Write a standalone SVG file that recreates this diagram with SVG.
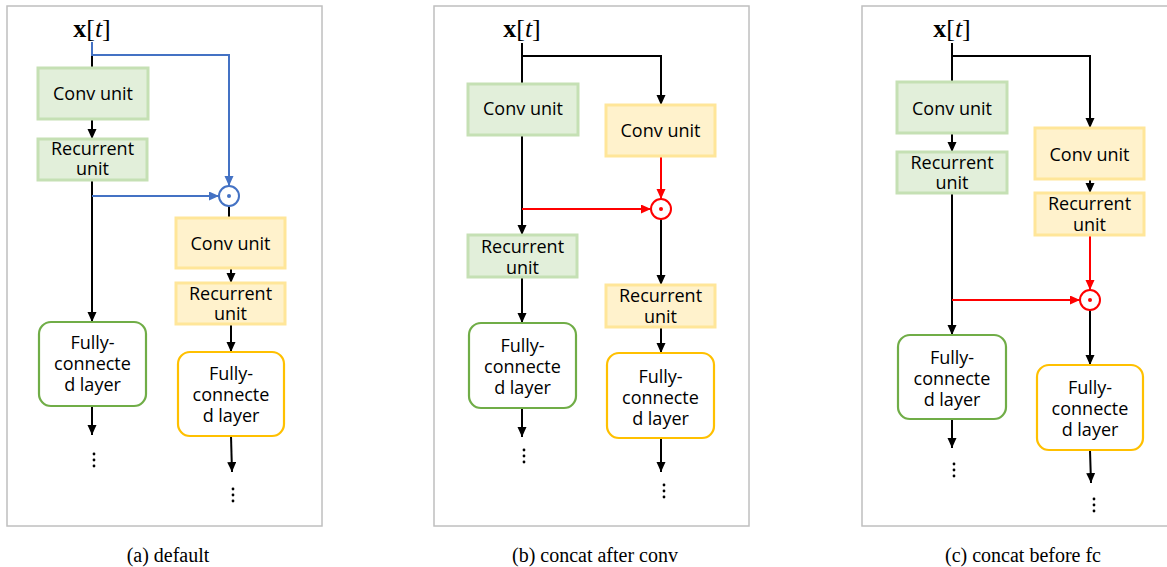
<svg xmlns="http://www.w3.org/2000/svg" width="1167" height="567" viewBox="0 0 1167 567">
<style>
.panel{fill:#fff;stroke:#bfbfbf;stroke-width:1.5}
.gbox{fill:#e2efda;stroke:#c5e0b4;stroke-width:3}
.ybox{fill:#fff2cc;stroke:#ffe699;stroke-width:3}
.gfc{fill:#fff;stroke:#70ad47;stroke-width:2.2}
.yfc{fill:#fff;stroke:#ffc000;stroke-width:2.2}
.t{font-family:"Open Sans","Noto Sans","DejaVu Sans",sans-serif;font-size:18px;fill:#000;text-anchor:middle}
.x{font-family:"Liberation Serif","DejaVu Serif",serif;font-size:26px;fill:#000;text-anchor:middle}
.cap{font-family:"Liberation Serif","DejaVu Serif",serif;font-size:20px;fill:#000;text-anchor:middle}
.k{fill:none;stroke:#000;stroke-width:2}
.b{fill:none;stroke:#4472c4;stroke-width:2}
.r{fill:none;stroke:#ff0000;stroke-width:2}
.ka{marker-end:url(#ak)}
.ba{marker-end:url(#ab)}
.ra{marker-end:url(#ar)}
.dot{fill:#000}
</style>
<defs>
<marker id="ak" markerUnits="userSpaceOnUse" markerWidth="10" markerHeight="10" refX="10" refY="4.5" orient="auto"><path d="M0,0 L10,4.5 L0,9 z" fill="#000"/></marker>
<marker id="ab" markerUnits="userSpaceOnUse" markerWidth="10" markerHeight="10" refX="10" refY="4.5" orient="auto"><path d="M0,0 L10,4.5 L0,9 z" fill="#4472c4"/></marker>
<marker id="ar" markerUnits="userSpaceOnUse" markerWidth="10" markerHeight="10" refX="10" refY="4.5" orient="auto"><path d="M0,0 L10,4.5 L0,9 z" fill="#ff0000"/></marker>
</defs>

<g id="panels">
<rect class="panel" x="7" y="6" width="315" height="520"/>
<rect class="panel" x="434" y="6" width="315" height="520"/>
<rect class="panel" x="862" y="6" width="320" height="520"/>
</g>

<!-- Panel a -->
<g id="connectors-a">
<line class="k" x1="92" y1="42" x2="92" y2="68"/>
<path class="b ba" d="M92,42 V55 H229 V186"/>
<line class="k ka" x1="92" y1="119" x2="92" y2="139"/>
<line class="k ka" x1="92" y1="180" x2="92" y2="322"/>
<path class="b ba" d="M92,196 H219"/>
<line class="k" x1="229" y1="206" x2="229" y2="218"/>
<line class="k ka" x1="231" y1="268" x2="231" y2="283"/>
<line class="k ka" x1="231" y1="324" x2="231" y2="352"/>
<line class="k ka" x1="92" y1="406" x2="92" y2="435"/>
<line class="k ka" x1="231" y1="436" x2="232" y2="472"/>
</g>
<g id="a-input"><text class="x" x="92" y="37"><tspan font-weight="bold">x</tspan>[<tspan font-style="italic">t</tspan>]</text></g>
<g id="a-conv1"><rect class="gbox" x="38" y="68" width="110" height="51"/><text class="t" x="93" y="100">Conv unit</text></g>
<g id="a-rec1"><rect class="gbox" x="38" y="139" width="109" height="41"/><text class="t" x="92.5" y="155">Recurrent<tspan x="92.5" dy="20">unit</tspan></text></g>
<g id="a-odot"><circle cx="229" cy="196" r="10" fill="#fff" stroke="#4472c4" stroke-width="2"/><circle cx="229" cy="196" r="2" fill="#4472c4"/></g>
<g id="a-conv2"><rect class="ybox" x="176" y="218" width="109" height="50"/><text class="t" x="230.5" y="250">Conv unit</text></g>
<g id="a-rec2"><rect class="ybox" x="176" y="283" width="109" height="41"/><text class="t" x="230.5" y="300">Recurrent<tspan x="230.5" dy="20">unit</tspan></text></g>
<g id="a-fc1"><rect class="gfc" x="39" y="322" width="107" height="84" rx="12"/><text class="t" x="92.5" y="349">Fully-<tspan x="92.5" dy="21">connecte</tspan><tspan x="92.5" dy="21">d layer</tspan></text></g>
<g id="a-fc2"><rect class="yfc" x="178" y="352" width="106" height="84" rx="12"/><text class="t" x="231" y="380">Fully-<tspan x="231" dy="21">connecte</tspan><tspan x="231" dy="21">d layer</tspan></text></g>
<g id="a-dots1"><circle class="dot" cx="94" cy="454" r="1.4"/><circle class="dot" cx="94" cy="460" r="1.4"/><circle class="dot" cx="94" cy="466" r="1.4"/></g>
<g id="a-dots2"><circle class="dot" cx="233" cy="489" r="1.4"/><circle class="dot" cx="233" cy="495" r="1.4"/><circle class="dot" cx="233" cy="501" r="1.4"/></g>
<text class="cap" x="168" y="562">(a)  default</text>

<!-- Panel b -->
<g id="connectors-b">
<line class="k" x1="522" y1="43" x2="522" y2="84"/>
<path class="k ka" d="M522,56 H661 V105"/>
<path class="r ra" d="M661,156 V199"/>
<line class="k ka" x1="522" y1="135" x2="522" y2="235"/>
<path class="r ra" d="M522,209 H651"/>
<line class="k ka" x1="661" y1="219" x2="661" y2="285"/>
<line class="k ka" x1="522" y1="277" x2="522" y2="323"/>
<line class="k ka" x1="522" y1="408" x2="522" y2="437"/>
<line class="k ka" x1="661" y1="327" x2="661" y2="353"/>
<line class="k ka" x1="661" y1="438" x2="661" y2="472"/>
</g>
<g id="b-input"><text class="x" x="522" y="37"><tspan font-weight="bold">x</tspan>[<tspan font-style="italic">t</tspan>]</text></g>
<g id="b-conv1"><rect class="gbox" x="468" y="84" width="110" height="51"/><text class="t" x="523" y="115">Conv unit</text></g>
<g id="b-conv2"><rect class="ybox" x="606" y="105" width="109" height="51"/><text class="t" x="660.5" y="137">Conv unit</text></g>
<g id="b-odot"><circle cx="661" cy="209" r="10" fill="#fff" stroke="#ff0000" stroke-width="2"/><circle cx="661" cy="209" r="2" fill="#ff0000"/></g>
<g id="b-rec1"><rect class="gbox" x="468" y="235" width="109" height="42"/><text class="t" x="522.5" y="253">Recurrent<tspan x="522.5" dy="21">unit</tspan></text></g>
<g id="b-rec2"><rect class="ybox" x="606" y="285" width="109" height="42"/><text class="t" x="660.5" y="302">Recurrent<tspan x="660.5" dy="21">unit</tspan></text></g>
<g id="b-fc1"><rect class="gfc" x="469" y="323" width="107" height="85" rx="12"/><text class="t" x="522.5" y="352">Fully-<tspan x="522.5" dy="21">connecte</tspan><tspan x="522.5" dy="21">d layer</tspan></text></g>
<g id="b-fc2"><rect class="yfc" x="607" y="353" width="107" height="85" rx="12"/><text class="t" x="660.5" y="383">Fully-<tspan x="660.5" dy="21">connecte</tspan><tspan x="660.5" dy="21">d layer</tspan></text></g>
<g id="b-dots1"><circle class="dot" cx="524" cy="450" r="1.4"/><circle class="dot" cx="524" cy="456" r="1.4"/><circle class="dot" cx="524" cy="462" r="1.4"/></g>
<g id="b-dots2"><circle class="dot" cx="664" cy="485" r="1.4"/><circle class="dot" cx="664" cy="491" r="1.4"/><circle class="dot" cx="664" cy="497" r="1.4"/></g>
<text class="cap" x="595" y="562">(b)  concat  after  conv</text>

<!-- Panel c -->
<g id="connectors-c">
<line class="k" x1="952" y1="43" x2="952" y2="82"/>
<path class="k ka" d="M952,56 H1090 V128"/>
<line class="k ka" x1="952" y1="133" x2="952" y2="152"/>
<line class="k ka" x1="1090" y1="179" x2="1090" y2="193"/>
<path class="r ra" d="M1090,235 V290"/>
<line class="k ka" x1="952" y1="193" x2="952" y2="335"/>
<path class="r ra" d="M952,300 H1080"/>
<line class="k ka" x1="1090" y1="310" x2="1090" y2="365"/>
<line class="k ka" x1="952" y1="419" x2="952" y2="448"/>
<line class="k ka" x1="1090" y1="450" x2="1091" y2="483"/>
</g>
<g id="c-input"><text class="x" x="952" y="37"><tspan font-weight="bold">x</tspan>[<tspan font-style="italic">t</tspan>]</text></g>
<g id="c-conv1"><rect class="gbox" x="897" y="82" width="110" height="51"/><text class="t" x="952" y="115">Conv unit</text></g>
<g id="c-rec1"><rect class="gbox" x="897" y="152" width="110" height="41"/><text class="t" x="952" y="169">Recurrent<tspan x="952" dy="20">unit</tspan></text></g>
<g id="c-conv2"><rect class="ybox" x="1035" y="128" width="109" height="51"/><text class="t" x="1089.5" y="161">Conv unit</text></g>
<g id="c-rec2"><rect class="ybox" x="1035" y="193" width="109" height="42"/><text class="t" x="1089.5" y="210">Recurrent<tspan x="1089.5" dy="21">unit</tspan></text></g>
<g id="c-odot"><circle cx="1090" cy="300" r="10" fill="#fff" stroke="#ff0000" stroke-width="2"/><circle cx="1090" cy="300" r="2" fill="#ff0000"/></g>
<g id="c-fc1"><rect class="gfc" x="898" y="335" width="108" height="84" rx="12"/><text class="t" x="952" y="364">Fully-<tspan x="952" dy="21">connecte</tspan><tspan x="952" dy="21">d layer</tspan></text></g>
<g id="c-fc2"><rect class="yfc" x="1037" y="365" width="106" height="85" rx="12"/><text class="t" x="1090" y="394">Fully-<tspan x="1090" dy="21">connecte</tspan><tspan x="1090" dy="21">d layer</tspan></text></g>
<g id="c-dots1"><circle class="dot" cx="954" cy="464" r="1.4"/><circle class="dot" cx="954" cy="470" r="1.4"/><circle class="dot" cx="954" cy="476" r="1.4"/></g>
<g id="c-dots2"><circle class="dot" cx="1094" cy="499" r="1.4"/><circle class="dot" cx="1094" cy="505" r="1.4"/><circle class="dot" cx="1094" cy="511" r="1.4"/></g>
<text class="cap" x="1023" y="562">(c)  concat  before  fc</text>
</svg>
